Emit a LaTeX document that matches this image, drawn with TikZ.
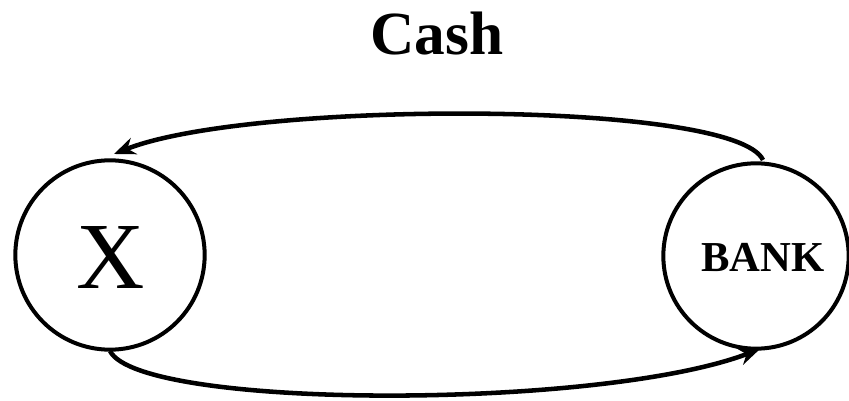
\documentclass[tikz,border=0pt]{standalone}
\usepackage{fontspec}
\setmainfont{Liberation Serif}
\usetikzlibrary{arrows.meta,positioning}
\begin{document}
\begin{tikzpicture}[>=Stealth,x=0.75pt,y=0.75pt,
  party/.style={circle,draw,line width=3pt,inner sep=0pt,minimum size=142pt},
  flow/.style={->,line width=3.4pt,>={Stealth[length=16pt,width=13pt]}},
  ttl/.style={font=\fontsize{46}{50}\selectfont\bfseries}]
\useasboundingbox (0,0) rectangle (849,400);
% the two parties of the cash loop
\node[party] (x) at (110,145) {};
\node[font=\fontsize{71}{75}\selectfont] (xlbl) at (111,142) {X};
\node[party,minimum size=139pt] (bank) at (756,144) {};
\node[font=\fontsize{32}{36}\selectfont\bfseries] (banklbl) at (763,143) {BANK};
% title
\node[ttl] (cash) at (437,366) {Cash};
% cash going out and coming back
\coordinate (btop) at (763,240);
\coordinate (xtop) at (114,246);
\coordinate (xbot) at (110,49);
\coordinate (bbot) at (760,51);
\draw[flow] (btop) .. controls (735,300) and (250,300) .. (xtop);
\draw[flow] (xbot) .. controls (140,-10) and (600,-10) .. (bbot);
\end{tikzpicture}
\end{document}
